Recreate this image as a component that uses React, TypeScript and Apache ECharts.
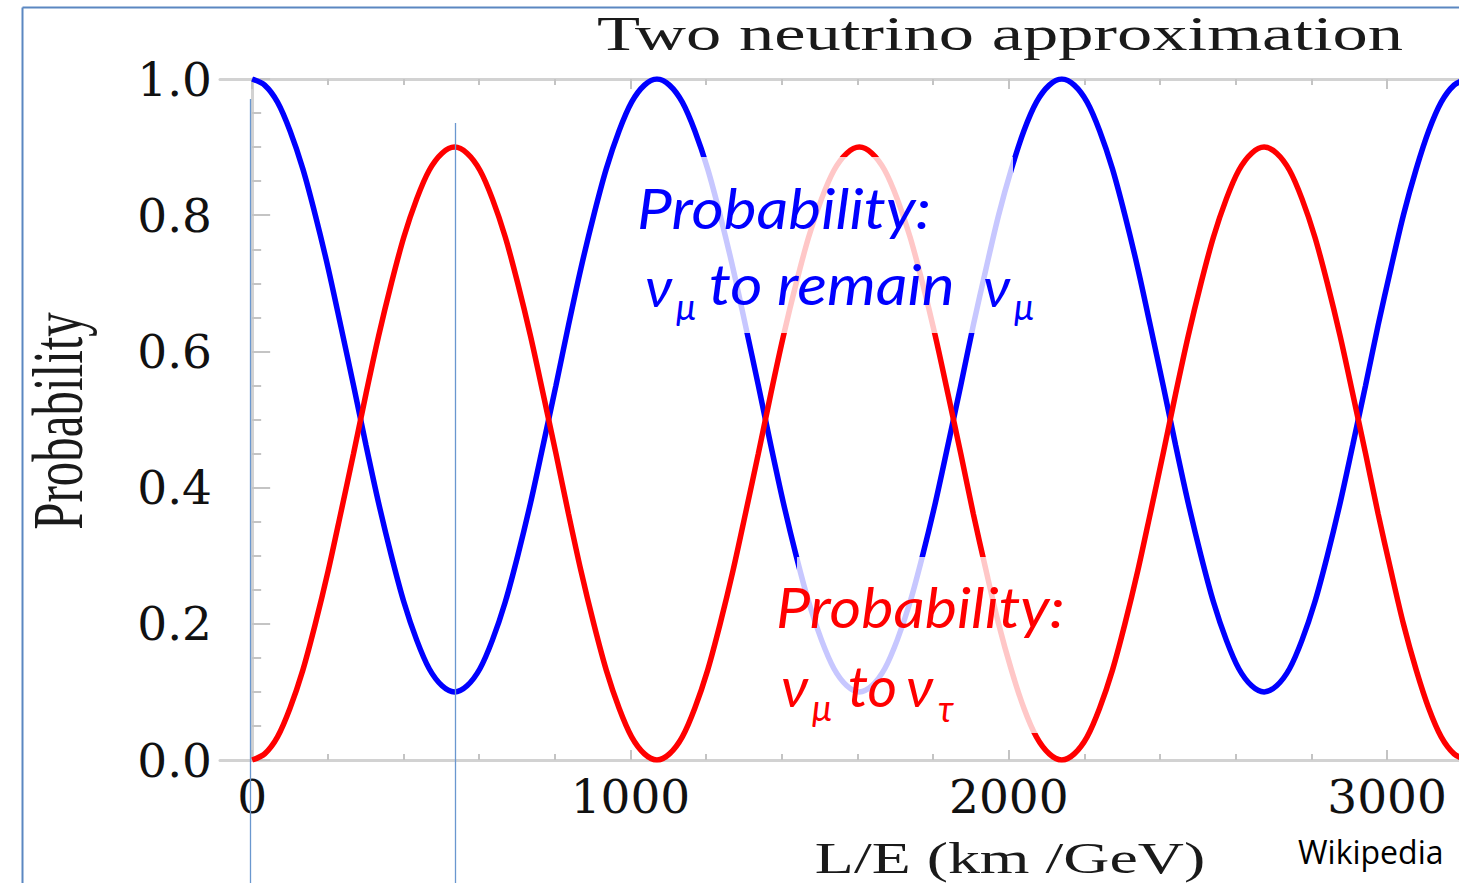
import React, { useEffect, useRef } from "react";
import * as echarts from "echarts";

// L/E (km/GeV) sample positions
const LE = [
  0, 33, 67, 100, 134, 167, 201, 234, 268, 301, 334, 368, 401, 435, 468, 502,
  535, 568, 602, 635, 669, 702, 736, 769, 803, 836, 869, 903, 936, 970, 1003, 1037,
  1070, 1103, 1137, 1170, 1204, 1237, 1271, 1304, 1338, 1371, 1404, 1438, 1471, 1505, 1538, 1572,
  1605, 1638, 1672, 1705, 1739, 1772, 1806, 1839, 1873, 1906, 1940, 1973, 2007, 2040, 2073, 2107,
  2140, 2173, 2207, 2240, 2274, 2307, 2341, 2374, 2408, 2441, 2474, 2508, 2541, 2575, 2608, 2642,
  2675, 2708, 2742, 2775, 2809, 2842, 2876, 2909, 2943, 2976, 3010, 3043, 3077, 3110, 3143, 3177,
  3210,
];

// Probability nu_mu -> nu_tau (red)
const P_TAU = [
  0, 0.009, 0.034, 0.076, 0.132, 0.2, 0.278, 0.362, 0.45, 0.538, 0.622, 0.7, 0.768, 0.824, 0.866, 0.891,
  0.9, 0.891, 0.866, 0.824, 0.768, 0.7, 0.622, 0.538, 0.45, 0.362, 0.278, 0.2, 0.132, 0.076, 0.034, 0.009,
  0, 0.009, 0.034, 0.076, 0.132, 0.2, 0.278, 0.362, 0.45, 0.538, 0.622, 0.7, 0.768, 0.824, 0.866, 0.891,
  0.9, 0.891, 0.866, 0.824, 0.768, 0.7, 0.622, 0.538, 0.45, 0.362, 0.278, 0.2, 0.132, 0.076, 0.034, 0.009,
  0, 0.009, 0.034, 0.076, 0.132, 0.2, 0.278, 0.362, 0.45, 0.538, 0.622, 0.7, 0.768, 0.824, 0.866, 0.891,
  0.9, 0.891, 0.866, 0.824, 0.768, 0.7, 0.622, 0.538, 0.45, 0.362, 0.278, 0.2, 0.132, 0.076, 0.034, 0.009,
  0,
];

// Probability nu_mu remains nu_mu (blue)
const P_MU = [
  1, 0.991, 0.966, 0.924, 0.868, 0.8, 0.722, 0.638, 0.55, 0.462, 0.378, 0.3, 0.232, 0.176, 0.134, 0.109,
  0.1, 0.109, 0.134, 0.176, 0.232, 0.3, 0.378, 0.462, 0.55, 0.638, 0.722, 0.8, 0.868, 0.924, 0.966, 0.991,
  1, 0.991, 0.966, 0.924, 0.868, 0.8, 0.722, 0.638, 0.55, 0.462, 0.378, 0.3, 0.232, 0.176, 0.134, 0.109,
  0.1, 0.109, 0.134, 0.176, 0.232, 0.3, 0.378, 0.462, 0.55, 0.638, 0.722, 0.8, 0.868, 0.924, 0.966, 0.991,
  1, 0.991, 0.966, 0.924, 0.868, 0.8, 0.722, 0.638, 0.55, 0.462, 0.378, 0.3, 0.232, 0.176, 0.134, 0.109,
  0.1, 0.109, 0.134, 0.176, 0.232, 0.3, 0.378, 0.462, 0.55, 0.638, 0.722, 0.8, 0.868, 0.924, 0.966, 0.991,
  1,
];

const X_MAJOR = [0, 1000, 2000, 3000];
const X_MINOR = [200, 400, 600, 800, 1200, 1400, 1600, 1800, 2200, 2400, 2600, 2800];

const TITLE = "Two neutrino approximation";
const X_NAME = "L/E (km /GeV)";
const Y_NAME = "Probability";
const SOURCE = "Wikipedia";

const AXIS_GREY = "#d2d2d2";
const TICK_GREY = "#c4c4c4";
const LABEL_FONT = "DejaVu Serif";
const SERIF = "Liberation Serif";
const ANNOT_FONT = "Lato, 'Noto Sans', sans-serif";

export default function App() {
  const ref = useRef<HTMLDivElement>(null);

  useEffect(() => {
    if (!ref.current) return;
    const chart = echarts.init(ref.current, null, { renderer: "svg" });

    const xBase = {
      type: "value",
      min: -85,
      max: 3190,
      splitLine: { show: false },
      axisPointer: { show: false },
    };

    const txt = (text: string, x: number, y: number, opts: any = {}) => ({
      type: "text",
      x,
      y,
      z: 120,
      silent: true,
      ...(opts.el || {}),
      style: {
        text,
        fill: opts.fill || "#111",
        fontFamily: opts.fontFamily || SERIF,
        fontSize: opts.fontSize || 40,
        fontStyle: opts.fontStyle || "normal",
        align: opts.align || "left",
        textAlign: opts.align || "left",
        verticalAlign: "middle",
        textVerticalAlign: "middle",
      },
    });

    const blue = (t: string, x: number, y: number, size: number, el: any = {}) =>
      txt(t, x, y, { fontSize: size, fill: "#0000ff", fontFamily: ANNOT_FONT, fontStyle: "italic", el });
    const red = (t: string, x: number, y: number, size: number, el: any = {}) =>
      txt(t, x, y, { fontSize: size, fill: "#ff0000", fontFamily: ANNOT_FONT, fontStyle: "italic", el });

    const option: any = {
      animation: false,
      backgroundColor: "#ffffff",
      grid: { left: 220, right: 0, top: 79, bottom: 123, containLabel: false },
      xAxis: [
        {
          ...xBase,
          position: "bottom",
          axisLine: { show: true, lineStyle: { color: AXIS_GREY, width: 3 } },
          axisTick: {
            show: true,
            inside: true,
            length: 10,
            customValues: X_MAJOR,
            lineStyle: { color: TICK_GREY, width: 2 },
          },
          axisLabel: {
            show: true,
            customValues: X_MAJOR,
            fontFamily: LABEL_FONT,
            fontSize: 47,
            color: "#111",
            margin: 13,
            formatter: (v: number) => String(v),
          },
        },
        {
          ...xBase,
          position: "bottom",
          axisLine: { show: false },
          axisTick: {
            show: true,
            inside: true,
            length: 6,
            customValues: X_MINOR,
            lineStyle: { color: TICK_GREY, width: 2 },
          },
          axisLabel: { show: false },
        },
        {
          ...xBase,
          position: "top",
          axisLine: { show: true, lineStyle: { color: AXIS_GREY, width: 3 } },
          axisTick: {
            show: true,
            inside: true,
            length: 10,
            customValues: X_MAJOR,
            lineStyle: { color: TICK_GREY, width: 2 },
          },
          axisLabel: { show: false },
        },
        {
          ...xBase,
          position: "top",
          axisLine: { show: false },
          axisTick: {
            show: true,
            inside: true,
            length: 6,
            customValues: X_MINOR,
            lineStyle: { color: TICK_GREY, width: 2 },
          },
          axisLabel: { show: false },
        },
      ],
      yAxis: {
        type: "value",
        min: 0,
        max: 1,
        interval: 0.2,
        splitLine: { show: false },
        axisLine: { show: true, lineStyle: { color: AXIS_GREY, width: 3 } },
        axisTick: { show: true, inside: true, length: 18, lineStyle: { color: TICK_GREY, width: 2 } },
        minorTick: { show: true, splitNumber: 4, length: 9, lineStyle: { color: TICK_GREY, width: 2 } },
        minorSplitLine: { show: false },
        axisLabel: {
          fontFamily: LABEL_FONT,
          fontSize: 47,
          color: "#111",
          margin: 8,
          formatter: (v: number) => v.toFixed(1),
        },
      },
      series: [
        {
          name: "nu_mu remains nu_mu",
          type: "line",
          xAxisIndex: 0,
          data: LE.map((x, i) => [x, P_MU[i]]),
          showSymbol: false,
          smooth: 0.3,
          clip: true,
          lineStyle: { color: "#0000ff", width: 5.5 },
          z: 2,
        },
        {
          name: "nu_mu to nu_tau",
          type: "line",
          xAxisIndex: 0,
          data: LE.map((x, i) => [x, P_TAU[i]]),
          showSymbol: false,
          smooth: 0.3,
          clip: true,
          lineStyle: { color: "#ff0000", width: 5.5 },
          z: 3,
        },
      ],
      graphic: {
        elements: [
          // slide frame
          { type: "line", z: 110, silent: true, shape: { x1: 22.5, y1: 7.5, x2: 22.5, y2: 883 }, style: { stroke: "#5b87c1", lineWidth: 2 } },
          { type: "line", z: 110, silent: true, shape: { x1: 22.5, y1: 7.5, x2: 1459, y2: 7.5 }, style: { stroke: "#5b87c1", lineWidth: 2 } },
          // marker lines
          { type: "line", z: 110, silent: true, shape: { x1: 250.5, y1: 99, x2: 250.5, y2: 883 }, style: { stroke: "#6a97cf", lineWidth: 1.3 } },
          { type: "line", z: 110, silent: true, shape: { x1: 455.5, y1: 123, x2: 455.5, y2: 883 }, style: { stroke: "#6a97cf", lineWidth: 1.3 } },
          // translucent text boxes
          { type: "rect", z: 100, silent: true, shape: { x: 700, y: 157, width: 313, height: 176 }, style: { fill: "rgba(255,255,255,0.78)" } },
          { type: "rect", z: 100, silent: true, shape: { x: 797, y: 557, width: 288, height: 176 }, style: { fill: "rgba(255,255,255,0.78)" } },
          // titles
          txt(TITLE, 1000, 34, { fontSize: 48, fill: "#1a1a1a", align: "center", el: { scaleX: 1.47 } }),
          txt(X_NAME, 1010, 858, { fontSize: 45, fill: "#1a1a1a", align: "center", el: { scaleX: 1.42 } }),
          txt(Y_NAME, 58, 421, { fontSize: 49, fill: "#1a1a1a", align: "center", el: { rotation: Math.PI / 2, scaleY: 1.45 } }),
          txt(SOURCE, 1298, 851, { fontSize: 32, fill: "#000", fontFamily: "'Open Sans', sans-serif" }),
          // blue annotation
          blue("Probability:", 637, 207, 57, { scaleX: 1.09 }),
          blue("ν", 645, 285, 57),
          blue("μ", 676, 306, 36),
          blue("to remain", 709, 283, 57, { scaleX: 1.09 }),
          blue("ν", 983, 285, 57),
          blue("μ", 1014, 306, 36),
          // red annotation
          red("Probability:", 776, 606, 56, { scaleX: 1.09 }),
          red("ν", 781, 685, 57),
          red("μ", 812, 707, 36),
          red("to", 848, 685, 57),
          red("ν", 906, 685, 57),
          red("τ", 938, 708, 36),
        ],
      },
    };

    chart.setOption(option);
    return () => chart.dispose();
  }, []);

  return (
    <div
      ref={ref}
      style={{ position: "absolute", left: 0, top: 0, width: 1459, height: 883, background: "#fff" }}
    />
  );
}
